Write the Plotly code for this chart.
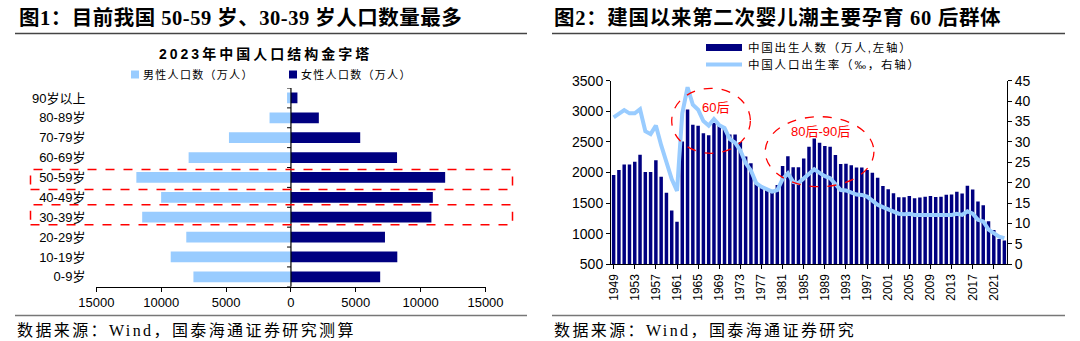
import plotly.graph_objects as go

W, H = 1080, 341


def px(x):
    return x / W


def py(y):
    return 1 - y / H


# ---------------- data: left panel (population pyramid, 10k persons) ----------------
age_groups = ["0-9岁", "10-19岁", "20-29岁", "30-39岁", "40-49岁",
              "50-59岁", "60-69岁", "70-79岁", "80-89岁", "90岁以上"]
male_pop = [7520, 9270, 8070, 11470, 10010, 11920, 7890, 4780, 1650, 300]
female_pop = [6880, 8200, 7250, 10830, 10940, 11890, 8180, 5340, 2150, 500]
pyr_ticks = [-15000, -10000, -5000, 0, 5000, 10000, 15000]
pyr_ticktext = ["15000", "10000", "5000", "0", "5000", "10000", "15000"]

# ---------------- data: right panel (births & birth rate) ----------------
years = list(range(1949, 2024))
births = [1960, 2040, 2130, 2130, 2175, 2290, 2010, 2010, 2200, 1930,
          1670, 1380, 1195, 2505, 3030, 2780, 2765, 2640, 2610, 2810,
          2780, 2720, 2620, 2620, 2500, 2260, 2150, 1820, 1770, 1740,
          1715, 1795, 2105, 2265, 2085, 2085, 2230, 2420, 2555, 2485,
          2435, 2420, 2285, 2140, 2145, 2120, 2080, 2080, 2040, 1995,
          1915, 1780, 1725, 1660, 1595, 1595, 1615, 1580, 1590, 1605,
          1615, 1600, 1605, 1635, 1640, 1685, 1655, 1785, 1723, 1525,
          1465, 1205, 1062, 915, 890]
birth_rate = [36.0, 37.0, 37.8, 37.0, 37.0, 38.0, 32.6, 31.9, 34.0, 29.2,
              24.8, 20.9, 18.0, 37.0, 43.4, 39.1, 37.9, 35.1, 34.0, 35.6,
              34.1, 33.4, 30.7, 29.8, 27.9, 24.8, 23.0, 19.9, 19.0, 18.3,
              17.8, 18.2, 20.9, 22.3, 20.2, 19.9, 21.0, 22.4, 23.3, 22.4,
              21.6, 21.1, 19.7, 18.2, 18.1, 17.7, 17.1, 17.0, 16.6, 15.6,
              14.6, 14.0, 13.4, 12.9, 12.4, 12.3, 12.4, 12.1, 12.1, 12.1,
              12.0, 11.9, 12.0, 12.1, 12.1, 12.4, 12.1, 13.0, 12.4, 10.9,
              10.5, 8.5, 7.5, 6.8, 6.4]
year_ticks = list(range(1949, 2022, 4))
assert len(births) == len(years) == len(birth_rate)

NAVY = "#000080"
LIGHT = "#99CCFF"
SANS = "Liberation Sans, Arial, Noto Sans CJK SC"
SERIF = "Liberation Serif, Times New Roman, Noto Sans CJK SC"

fig = go.Figure()

# left pyramid bars
fig.add_trace(go.Bar(y=age_groups, x=[-v for v in male_pop], orientation="h",
                     xaxis="x", yaxis="y", width=0.54,
                     marker=dict(color=LIGHT, line=dict(width=0)), name="男性人口数（万人）"))
fig.add_trace(go.Bar(y=age_groups, x=female_pop, orientation="h",
                     xaxis="x", yaxis="y", width=0.54,
                     marker=dict(color=NAVY, line=dict(width=0)), name="女性人口数（万人）"))

# right births bars + birth-rate line
fig.add_trace(go.Bar(x=years, y=births, xaxis="x2", yaxis="y2", width=0.66,
                     marker=dict(color=NAVY, line=dict(width=0)), name="中国出生人数"))
fig.add_trace(go.Scatter(x=years, y=birth_rate, xaxis="x2", yaxis="y3", mode="lines",
                         line=dict(color=LIGHT, width=4), name="中国人口出生率"))

axis_common = dict(showgrid=False, zeroline=False, linecolor="black", linewidth=1,
                   tickcolor="black", ticklen=4, ticks="outside", automargin=False)

fig.update_layout(
    template="none",
    width=W, height=H, margin=dict(l=0, r=0, t=0, b=0, pad=0),
    paper_bgcolor="white", plot_bgcolor="white",
    showlegend=False, barmode="overlay",
    font=dict(family=SANS, color="black"),
    xaxis=dict(domain=[px(96.4), px(485.5)], range=[-15000, 15000],
               tickvals=pyr_ticks, ticktext=pyr_ticktext, showline=True,
               tickfont=dict(size=13, family=SANS), anchor="y", **axis_common),
    yaxis=dict(domain=[py(286.8), py(88)], type="category",
               categoryorder="array", categoryarray=age_groups,
               range=[-0.5, 9.5], showline=False, ticks="", showgrid=False,
               zeroline=False, tickfont=dict(size=13, family=SANS),
               ticklabelstandoff=10, anchor="x", automargin=False),
    xaxis2=dict(domain=[px(611), px(1007)], range=[1948.5, 2023.5],
                tickvals=year_ticks, tickangle=-90, showline=True,
                tickfont=dict(size=12, family=SANS), anchor="y2", **axis_common),
    yaxis2=dict(domain=[py(264.3), py(80.7)], range=[500, 3500], dtick=500,
                showline=True, tickfont=dict(size=14, family=SANS), anchor="x2",
                **axis_common),
    yaxis3=dict(domain=[py(264.3), py(80.7)], range=[0, 45], dtick=5,
                overlaying="y2", side="right", showline=True,
                tickfont=dict(size=14, family=SANS), anchor="x2", **axis_common),
)

shapes = []
# centre axis of pyramid with boundary ticks
shapes.append(dict(type="line", xref="x", yref="y", x0=0, x1=0, y0=-0.5, y1=9.55,
                   line=dict(color="black", width=1.2)))
for k in range(11):
    shapes.append(dict(type="line", xref="x", yref="y", x0=-300, x1=0,
                       y0=k - 0.5, y1=k - 0.5, line=dict(color="black", width=1)))
# dashed highlight boxes
for (y0, y1) in [(169.5, 189.5), (204.8, 224.8)]:
    shapes.append(dict(type="rect", xref="paper", yref="paper",
                       x0=px(30.5), x1=px(512.5), y0=py(y1), y1=py(y0),
                       line=dict(color="red", width=1.5, dash="dash")))
# ellipses on right chart
shapes.append(dict(type="circle", xref="x2", yref="y2", x0=1960.0, x1=1974.9,
                   y0=2314, y1=3376, line=dict(color="red", width=1.3, dash="dash")))
shapes.append(dict(type="circle", xref="x2", yref="y2", x0=1977.7, x1=1998.3,
                   y0=1768, y1=2912, line=dict(color="red", width=1.3, dash="dash")))
# heading rules & footer rules
for (xa, xb) in [(15, 527), (552, 1065)]:
    shapes.append(dict(type="line", xref="paper", yref="paper", x0=px(xa), x1=px(xb),
                       y0=py(33.5), y1=py(33.5), line=dict(color="#444444", width=1.5)))
    shapes.append(dict(type="line", xref="paper", yref="paper", x0=px(xa), x1=px(xb),
                       y0=py(315.5), y1=py(315.5), line=dict(color="#777777", width=1.5)))
# left legend squares
shapes.append(dict(type="rect", xref="paper", yref="paper", x0=px(131), x1=px(139),
                   y0=py(78.5), y1=py(70.5), fillcolor=LIGHT, line=dict(width=0)))
shapes.append(dict(type="rect", xref="paper", yref="paper", x0=px(289), x1=px(297),
                   y0=py(78.5), y1=py(70.5), fillcolor=NAVY, line=dict(width=0)))
# right legend symbols
shapes.append(dict(type="rect", xref="paper", yref="paper", x0=px(706), x1=px(742),
                   y0=py(51), y1=py(44), fillcolor=NAVY, line=dict(width=0)))
shapes.append(dict(type="line", xref="paper", yref="paper", x0=px(706), x1=px(742),
                   y0=py(64.5), y1=py(64.5), line=dict(color=LIGHT, width=4)))
fig.update_layout(shapes=shapes)


def ann(x, y, text, size, color="black", family=SANS, ls=None, bold=False,
        xanchor="left", xref="paper", yref="paper"):
    t = text
    if bold:
        t = "<b>" + t + "</b>"
    if ls is not None:
        t = '<span style="letter-spacing:%spx">%s</span>' % (ls, t)
    xx = px(x) if xref == "paper" else x
    yy = py(y) if yref == "paper" else y
    return dict(x=xx, y=yy, xref=xref, yref=yref, text=t, showarrow=False,
                xanchor=xanchor, yanchor="middle",
                font=dict(size=size, color=color, family=family))


anns = [
    ann(17, 18, "图1：目前我国 50-59 岁、30-39 岁人口数量最多", 20.5, family=SERIF, bold=True, ls=0.5),
    ann(552, 18, "图2：建国以来第二次婴儿潮主要孕育 60 后群体", 20.5, family=SERIF, bold=True, ls=0.7),
    ann(265, 54, "2023年中国人口结构金字塔", 14, ls=3, bold=True, xanchor="center"),
    ann(141, 74.5, "男性人口数（万人）", 11, ls=1.3),
    ann(299, 74.5, "女性人口数（万人）", 11, ls=1.3),
    ann(746, 47.5, "中国出生人数（万人,左轴）", 11.5, ls=1.8),
    ann(746, 64.5, "中国人口出生率（‰，右轴）", 11.5, ls=1.8),
    ann(1968.2, 3059, "60后", 13, color="red", xanchor="center", xref="x2", yref="y2"),
    ann(1988.1, 2678, "80后-90后", 13, color="red", xanchor="center", xref="x2", yref="y2"),
    ann(15, 330, "数据来源：Wind，国泰海通证券研究测算", 16, family=SERIF, ls=2.4),
    ann(552, 330, "数据来源：Wind，国泰海通证券研究", 16, family=SERIF, ls=2.4),
]
fig.update_layout(annotations=anns)

fig.write_html("out.html")
